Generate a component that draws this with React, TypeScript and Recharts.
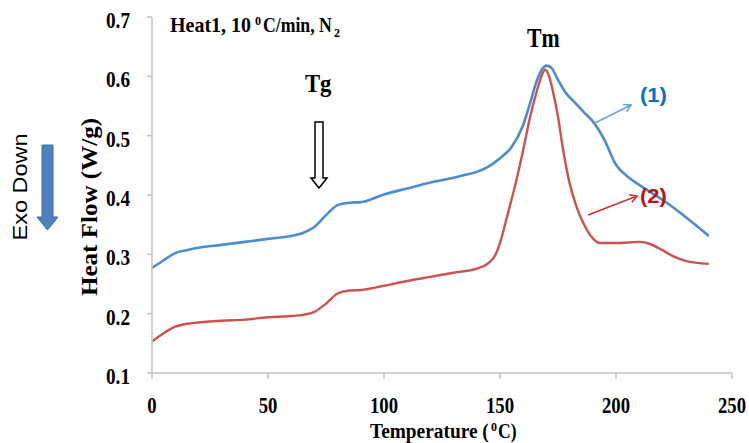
import React from 'react'
import { LineChart, Line, XAxis, YAxis } from 'recharts'

// sample 1 (blue) and sample 2 (red) DSC traces
const temp1 = [0, 5, 10, 15, 20, 30, 40, 50, 60, 65, 70, 75, 80, 85, 90, 100, 110, 120, 130, 135, 140, 145, 150, 155, 160, 163, 166, 168, 170, 172, 175, 178, 182, 186, 190, 195, 200, 205, 210, 220, 230, 240]
const flow1 = [0.277, 0.29, 0.302, 0.307, 0.311, 0.316, 0.321, 0.326, 0.331, 0.336, 0.346, 0.366, 0.383, 0.387, 0.388, 0.401, 0.411, 0.421, 0.429, 0.434, 0.439, 0.448, 0.462, 0.481, 0.518, 0.555, 0.594, 0.611, 0.618, 0.615, 0.594, 0.574, 0.557, 0.54, 0.524, 0.493, 0.451, 0.431, 0.417, 0.392, 0.363, 0.331]

const temp2 = [0, 5, 10, 15, 20, 30, 40, 50, 60, 65, 70, 75, 80, 85, 90, 100, 110, 120, 130, 140, 145, 148, 150, 153, 156, 160, 163, 166, 168, 169.5, 171, 173, 175, 177, 180, 183, 186, 190, 193, 200, 210, 215, 220, 225, 230, 240]
const flow2 = [0.153, 0.167, 0.178, 0.183, 0.185, 0.188, 0.19, 0.194, 0.196, 0.198, 0.203, 0.217, 0.234, 0.239, 0.24, 0.247, 0.255, 0.262, 0.269, 0.276, 0.285, 0.299, 0.319, 0.363, 0.408, 0.476, 0.532, 0.577, 0.602, 0.611, 0.602, 0.571, 0.532, 0.481, 0.42, 0.38, 0.352, 0.327, 0.319, 0.319, 0.321, 0.317, 0.307, 0.296, 0.289, 0.284]

const xTicks = [0, 50, 100, 150, 200, 250]
const yTicks = [0.1, 0.2, 0.3, 0.4, 0.5, 0.6, 0.7]

const data1 = temp1.map((t, i) => ({ t, v: flow1[i] }))
const data2 = temp2.map((t, i) => ({ t, v: flow2[i] }))

const serif = '"Liberation Serif", "Times New Roman", serif'
const sans = '"Liberation Sans", Arial, sans-serif'
const axisGray = '#c3c3c3'

const XTick = (props: any) => {
  const { x, y, payload } = props
  return (
    <text
      transform={`translate(${x},${y}) scale(0.78,1)`}
      textAnchor="middle"
      fontFamily={serif}
      fontWeight="bold"
      fontSize={24}
      fill="#000"
    >
      {payload.value}
    </text>
  )
}

const YTick = (props: any) => {
  const { x, y, payload } = props
  return (
    <text
      transform={`translate(${x},${y + 11}) scale(0.8,1)`}
      textAnchor="end"
      fontFamily={serif}
      fontWeight="bold"
      fontSize={24}
      fill="#000"
    >
      {Number(payload.value).toFixed(1)}
    </text>
  )
}

// bold text, narrowed horizontally by s
const Squeezed = ({ x, y, s = 1, size, family = serif, fill = '#000', children }: any) => (
  <text transform={`translate(${x},${y}) scale(${s},1)`} fontFamily={family} fontWeight="bold" fontSize={size} fill={fill}>
    {children}
  </text>
)

function Annotations() {
  return (
    <svg width={749} height={443} style={{ position: 'absolute', left: 0, top: 0, pointerEvents: 'none' }}>
      <defs>
        <marker id="headBlue" markerWidth="10" markerHeight="10" refX="8" refY="5" orient="auto" markerUnits="userSpaceOnUse">
          <path d="M1,1 L8,5 L1,9" fill="none" stroke="#6fa0d6" strokeWidth={1.6} />
        </marker>
        <marker id="headRed" markerWidth="10" markerHeight="10" refX="8" refY="5" orient="auto" markerUnits="userSpaceOnUse">
          <path d="M1,1 L8,5 L1,9" fill="none" stroke="#e02b2b" strokeWidth={1.6} />
        </marker>
      </defs>

      {/* Heat1, 10 °C/min, N2 */}
      <Squeezed x={170} y={32} size={20}>Heat1, 10</Squeezed>
      <Squeezed x={255} y={25} size={12}>0</Squeezed>
      <Squeezed x={263} y={32} s={0.885} size={20}>C/min, N</Squeezed>
      <Squeezed x={334} y={37} size={12}>2</Squeezed>

      <Squeezed x={305} y={92} s={0.87} size={26}>Tg</Squeezed>
      <path d="M315,122 L323,122 L323,178 L327,178 L319,188 L311,178 L315,178 Z" fill="#fff" stroke="#000" strokeWidth={1.5} />

      <Squeezed x={527} y={47} s={0.81} size={27}>Tm</Squeezed>

      <line x1={595} y1={123} x2={631} y2={105} stroke="#6fa0d6" strokeWidth={1.6} markerEnd="url(#headBlue)" />
      <Squeezed x={640} y={102} s={1.05} size={21} family={sans} fill="#0a6ec8">(1)</Squeezed>

      <line x1={588} y1={215} x2={637} y2={196} stroke="#e02b2b" strokeWidth={1.6} markerEnd="url(#headRed)" />
      <Squeezed x={640} y={203} s={1.05} size={21} family={sans} fill="#b81414">(2)</Squeezed>

      {/* Temperature (°C) */}
      <Squeezed x={370} y={438} s={0.88} size={22}>Temperature (</Squeezed>
      <Squeezed x={491} y={431} size={12}>0</Squeezed>
      <Squeezed x={498} y={438} s={0.8} size={22}>C)</Squeezed>

      <text
        transform="translate(97,207) rotate(-90)"
        textAnchor="middle"
        fontFamily={serif}
        fontWeight="bold"
        fontSize={24}
        textLength={178}
        lengthAdjust="spacingAndGlyphs"
      >
        Heat Flow (W/g)
      </text>

      <text
        transform="translate(27,187) rotate(-90)"
        textAnchor="middle"
        fontFamily={sans}
        fontSize={20}
        textLength={107}
        lengthAdjust="spacingAndGlyphs"
      >
        Exo Down
      </text>
      <path d="M42,145 L53,145 L53,217 L58,217 L47.5,230 L37,217 L42,217 Z" fill="#4f81bd" stroke="#3b6aa0" strokeWidth={1} />
    </svg>
  )
}

export default function App() {
  return (
    <div style={{ position: 'absolute', left: 0, top: 0, width: 749, height: 443, background: '#fff' }}>
      <LineChart width={749} height={443} margin={{ top: 17, right: 17, left: 0, bottom: 0 }}>
        <XAxis
          dataKey="t"
          type="number"
          domain={[0, 250]}
          ticks={xTicks}
          allowDuplicatedCategory={false}
          height={70}
          tickSize={6}
          tickMargin={34}
          stroke={axisGray}
          strokeWidth={1.5}
          tick={<XTick />}
        />
        <YAxis
          type="number"
          domain={[0.1, 0.7]}
          ticks={yTicks}
          width={152}
          tickSize={5}
          tickMargin={17}
          stroke={axisGray}
          strokeWidth={1.5}
          tick={<YTick />}
        />
        <Line data={data1} dataKey="v" type="monotone" stroke="#4a8cd0" strokeWidth={2.6} dot={false} isAnimationActive={false} />
        <Line data={data2} dataKey="v" type="monotone" stroke="#cd524e" strokeWidth={2.4} dot={false} isAnimationActive={false} />
      </LineChart>
      <Annotations />
    </div>
  )
}
